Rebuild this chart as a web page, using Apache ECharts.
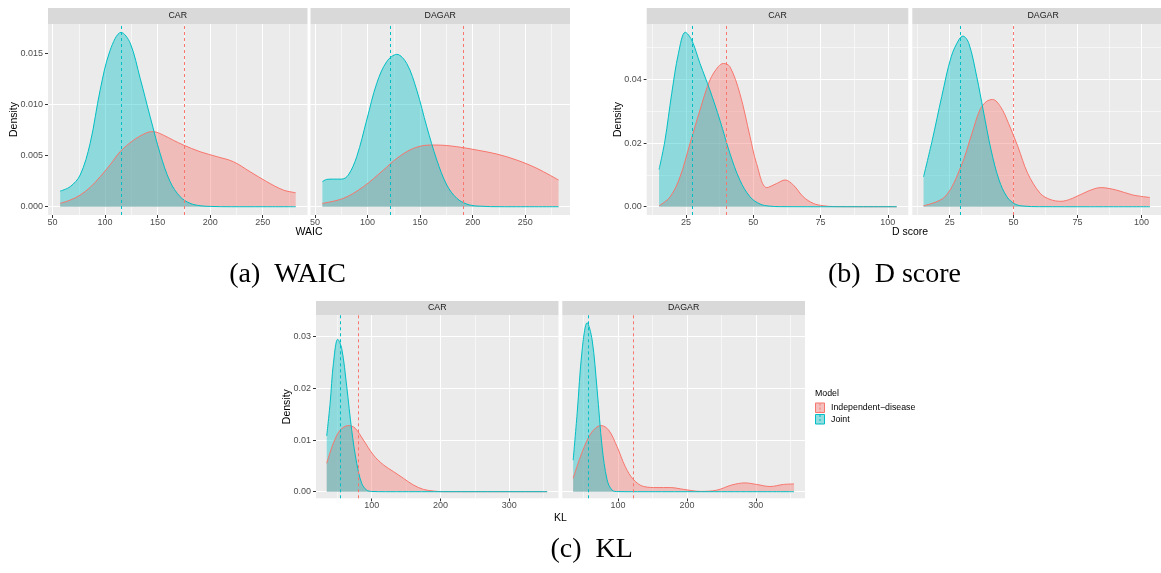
<!DOCTYPE html>
<html><head><meta charset="utf-8">
<script src="https://cdn.jsdelivr.net/npm/echarts@6/dist/echarts.min.js"></script>
<style>html,body{margin:0;padding:0;background:#fff}#c{width:1161px;height:573px}</style>
</head><body><div id="c"></div>
<script>
// ---------- DATA ----------
const facets = ['CAR', 'DAGAR'];
const models = ['Independent\u2212disease', 'Joint'];
const metricTitles = ['WAIC', 'D score', 'KL'];
const captions = ['(a) WAIC', '(b) D score', '(c) KL'];

// WAIC
const waicCarIndepX = [57.3,66.8,76.3,85.8,95.3,104.8,114.3,127,139.7,146,155.5,165,174.6,190.4,206.3,222.1,238,253.8,269.6,281.4];
const waicCarIndepY = [0.00033,0.00065,0.00114,0.0019,0.00293,0.0041,0.00538,0.0065,0.00724,0.00734,0.0070,0.0065,0.00603,0.00538,0.0049,0.0044,0.00342,0.00245,0.00163,0.00137];
const waicCarJointX = [57.3,66.8,76.3,85.8,95.3,104.8,115.3,123.9,133.4,142.9,152.4,161.9,171.4,180.9,190.4,200,220,250,281.4];
const waicCarJointY = [0.00153,0.00196,0.0031,0.0062,0.0114,0.0153,0.01705,0.0160,0.01255,0.0088,0.0052,0.00245,0.00098,0.00033,0.0001,0.00003,0,0,0];
const waicDagarIndepX = [57,77,96,115.1,127.8,143.7,159.5,165.9,184.9,204,223,242,261.1,281.7];
const waicDagarIndepY = [0.00033,0.00082,0.00196,0.00359,0.00473,0.00571,0.00603,0.00603,0.00587,0.00554,0.00515,0.00456,0.00375,0.00261];
const waicDagarJointX = [57,61.1,67.5,75.4,81.7,89.7,99.2,108.7,118.3,127.8,137.3,146.8,156.3,165.9,175.4,184.9,194.4,204,230,281.7];
const waicDagarJointY = [0.00245,0.00267,0.0027,0.0027,0.0031,0.0049,0.00848,0.01206,0.0142,0.0149,0.0140,0.0114,0.00783,0.00456,0.00212,0.00082,0.00026,0.00007,0,0];
const waicMeans = { CAR: [174.9, 115.3], DAGAR: [191.3, 121.7] }; // [Independent, Joint]

// D score
const dCarIndepX = [15,19.1,22.8,26.5,30.2,33.9,37,38.9,41.3,45,48.8,51.2,55,58.7,61.8,64.9,68.6,72.3,76,80,90,103.3];
const dCarIndepY = [0.0003,0.0031,0.0094,0.0199,0.0304,0.0398,0.0440,0.0450,0.0440,0.0356,0.0220,0.0136,0.0060,0.0073,0.0084,0.0068,0.0031,0.00105,0.0003,0.00005,0,0];
const dCarJointX = [15,17.2,19.7,22.2,24.75,27.1,30.2,33.9,37.6,41.3,45,48.8,52.5,56,60,80,103.3];
const dCarJointY = [0.0117,0.0209,0.0356,0.0482,0.0548,0.0524,0.0450,0.0366,0.0272,0.0168,0.0084,0.0031,0.00084,0.0002,0.00003,0,0];
const dDagarIndepX = [14.8,23.1,29.4,33.7,36.8,39.3,41.8,44.9,48,51.7,55.5,60.4,64.2,68.5,72.9,79.1,84.1,90.3,96.5,103.3];
const dDagarIndepY = [0.0003,0.0031,0.0126,0.0230,0.0304,0.0330,0.0337,0.0314,0.0262,0.0188,0.0105,0.0042,0.0023,0.0017,0.0026,0.0049,0.0060,0.0052,0.0037,0.0029];
const dDagarJointX = [14.8,18.2,21.9,25.6,28.7,30.2,32.5,35.6,38.1,41.2,44.3,47.4,50.5,54,60,80,103.3];
const dDagarJointY = [0.0094,0.0209,0.0346,0.0471,0.0526,0.0536,0.0513,0.0408,0.0304,0.0178,0.0084,0.0031,0.00084,0.0002,0.00002,0,0];
const dMeans = { CAR: [39.9, 27.5], DAGAR: [49.9, 29.0] };

// KL
const klCarIndepX = [34.6,44.3,54,66.1,75.8,87.9,102.4,116.9,131.5,146,160.5,175.1,189.6,204,250,355];
const klCarIndepY = [0.0055,0.0094,0.0119,0.0128,0.0123,0.0100,0.0071,0.0052,0.0039,0.0026,0.0013,0.00045,0.00013,0,0,0];
const klCarJointX = [34.6,39.5,44.3,50.6,56.4,63.7,70.9,78.2,85.5,92.7,100,120,355];
const klCarJointY = [0.0108,0.0171,0.0248,0.0295,0.0277,0.0203,0.0119,0.0055,0.0016,0.0003,0.00005,0,0];
const klDagarIndepX = [34.8,45.4,57.5,67.1,75.4,86.5,98.6,110.6,122.7,137.2,156.5,175.8,195.2,219.3,243.5,265.2,284.5,301.4,320.8,340.1,355.6];
const klDagarIndepY = [0.0026,0.0068,0.0106,0.0123,0.0128,0.0119,0.0087,0.0048,0.0023,0.0010,0.0008,0.0008,0.00045,0.00006,0.0003,0.0013,0.0017,0.0014,0.0010,0.0014,0.0015];
const klDagarJointX = [34.8,40.6,47.8,55.1,62.3,69.6,76.8,84.1,91.3,100,120,355.6];
const klDagarJointY = [0.0061,0.0152,0.0274,0.0327,0.0294,0.0197,0.0087,0.0023,0.0003,0.00002,0,0];
const klMeans = { CAR: [80.6, 54.5], DAGAR: [121.7, 56.5] };

// Ticks
const waicTicks = [50,100,150,200,250];
const waicMinor = [75,125,175,225,275];
const waicDensTicks = [0,0.005,0.010,0.015];
const waicDensLabels = ['0.000','0.005','0.010','0.015'];
const waicDensMinor = [0.0025,0.0075,0.0125,0.0175];
const dTicks = [25,50,75,100];
const dMinor = [12.5,37.5,62.5,87.5];
const dDensTicks = [0,0.02,0.04];
const dDensLabels = ['0.00','0.02','0.04'];
const dDensMinor = [0.01,0.03,0.05];
const klTicks = [100,200,300];
const klMinor = [50,150,250,350];
const klDensTicks = [0,0.01,0.02,0.03];
const klDensLabels = ['0.00','0.01','0.02','0.03'];
const klDensMinor = [0.005,0.015,0.025];

// ---------- LAYOUT ----------
const COL_INDEP = '#F8766D', COL_JOINT = '#00BFC4';
const FONT = 'Liberation Sans';
const pair = (xs, ys) => xs.map((x, i) => [x, ys[i]]);

const metrics = [
  { xt: waicTicks, xm: waicMinor, yt: waicDensTicks, yl: waicDensLabels, ym: waicDensMinor,
    xr: [45.7, 292.6], yr: [-0.00081, 0.01787], means: waicMeans,
    curves: { CAR: [pair(waicCarIndepX, waicCarIndepY), pair(waicCarJointX, waicCarJointY)],
              DAGAR: [pair(waicDagarIndepX, waicDagarIndepY), pair(waicDagarJointX, waicDagarJointY)] },
    grids: [{left:48, top:24, width:259.5, height:191}, {left:310.5, top:24, width:259.5, height:191}],
    strip: {top: 8, h: 16}, ytitle: [14, 119.5], xtitle: [309, 232], caption: [287.5, 274.5] },
  { xt: dTicks, xm: dMinor, yt: dDensTicks, yl: dDensLabels, ym: dDensMinor,
    xr: [10.4, 107.6], yr: [-0.0026, 0.0574], means: dMeans,
    curves: { CAR: [pair(dCarIndepX, dCarIndepY), pair(dCarJointX, dCarJointY)],
              DAGAR: [pair(dDagarIndepX, dDagarIndepY), pair(dDagarJointX, dDagarJointY)] },
    grids: [{left:646.7, top:24, width:261.6, height:191}, {left:912.3, top:24, width:261.6, height:191}],
    strip: {top: 8, h: 16}, ytitle: [618, 119.5], xtitle: [910, 232], caption: [894.5, 274.5] },
  { xt: klTicks, xm: klMinor, yt: klDensTicks, yl: klDensLabels, ym: klDensMinor,
    xr: [19, 371.5], yr: [-0.00128, 0.0342], means: klMeans,
    curves: { CAR: [pair(klCarIndepX, klCarIndepY), pair(klCarJointX, klCarJointY)],
              DAGAR: [pair(klDagarIndepX, klDagarIndepY), pair(klDagarJointX, klDagarJointY)] },
    grids: [{left:316, top:315, width:242.5, height:183.3}, {left:562.3, top:315, width:242.7, height:183.3}],
    strip: {top: 301, h: 14}, ytitle: [286.7, 406.7], xtitle: [560.5, 518], caption: [591.7, 549.5] }
];

const grid = [], xAxis = [], yAxis = [], series = [], graphic = [];
let gi = 0;
metrics.forEach((m, mi) => {
  facets.forEach((f, fi) => {
    const g = m.grids[fi];
    grid.push(Object.assign({ show: true, backgroundColor: '#EBEBEB', borderWidth: 0, containLabel: false }, g));
    xAxis.push({
      type: 'value', gridIndex: gi, min: m.xr[0], max: m.xr[1],
      axisLine: { show: false, onZero: false },
      splitLine: { show: false },
      axisTick: { show: true, customValues: m.xt, length: 3, lineStyle: { color: '#333333', width: 1 } },
      axisLabel: { show: true, customValues: m.xt, color: '#4D4D4D', fontSize: 9, fontFamily: FONT, margin: 3,
                   showMinLabel: true, showMaxLabel: true, hideOverlap: false }
    });
    yAxis.push({
      type: 'value', gridIndex: gi, min: m.yr[0], max: m.yr[1],
      axisLine: { show: false, onZero: false },
      splitLine: { show: false },
      axisTick: { show: fi === 0, customValues: m.yt, length: 3, lineStyle: { color: '#333333', width: 1 } },
      axisLabel: { show: fi === 0, customValues: m.yt, color: '#4D4D4D', fontSize: 9, fontFamily: FONT, margin: 5,
                   formatter: v => { const k = m.yt.findIndex(t => Math.abs(t - v) < 1e-9); return k >= 0 ? m.yl[k] : ''; } }
    });
    // grid lines
    const gl = [];
    m.xm.forEach(v => gl.push({ xAxis: v, lineStyle: { color: '#FFFFFF', width: 0.55, type: 'solid' } }));
    m.ym.forEach(v => gl.push({ yAxis: v, lineStyle: { color: '#FFFFFF', width: 0.55, type: 'solid' } }));
    m.xt.forEach(v => gl.push({ xAxis: v, lineStyle: { color: '#FFFFFF', width: 1.1, type: 'solid' } }));
    m.yt.forEach(v => gl.push({ yAxis: v, lineStyle: { color: '#FFFFFF', width: 1.1, type: 'solid' } }));
    series.push({
      type: 'line', xAxisIndex: gi, yAxisIndex: gi, data: [], z: 1, silent: true,
      markLine: { silent: true, z: 1, symbol: ['none', 'none'], label: { show: false }, animation: false,
                  emphasis: { disabled: true }, data: gl }
    });
    // densities
    const cols = [COL_INDEP, COL_JOINT];
    m.curves[f].forEach((d, k) => {
      series.push({
        type: 'line', name: models[k], xAxisIndex: gi, yAxisIndex: gi, data: d, z: 2,
        smooth: 0.35, symbol: 'none', silent: true, animation: false,
        lineStyle: { color: cols[k], width: 1 },
        areaStyle: { color: cols[k], opacity: 0.4 }
      });
    });
    // mean lines
    series.push({
      type: 'line', xAxisIndex: gi, yAxisIndex: gi, data: [], z: 3, silent: true,
      markLine: { silent: true, z: 5, symbol: ['none', 'none'], label: { show: false }, animation: false,
                  emphasis: { disabled: true },
                  data: m.means[f].map((v, k) => ({ xAxis: v, lineStyle: { color: cols[k], width: 1, type: [3, 3] } })) }
    });
    // strip
    graphic.push({ type: 'rect', silent: true, z: 10,
      shape: { x: g.left, y: m.strip.top, width: g.width, height: m.strip.h },
      style: { fill: '#D9D9D9' } });
    graphic.push({ type: 'text', silent: true, z: 11,
      x: g.left + g.width / 2, y: m.strip.top + m.strip.h / 2,
      style: { text: f, fill: '#1A1A1A', font: '8.8px "' + FONT + '"', textAlign: 'center', textVerticalAlign: 'middle' } });
    gi++;
  });
  // axis titles
  graphic.push({ type: 'text', silent: true, z: 11, x: m.ytitle[0], y: m.ytitle[1], rotation: Math.PI / 2,
    style: { text: 'Density', fill: '#000', font: '10.5px "' + FONT + '"', textAlign: 'center', textVerticalAlign: 'middle' } });
  graphic.push({ type: 'text', silent: true, z: 11, x: m.xtitle[0], y: m.xtitle[1],
    style: { text: metricTitles[mi], fill: '#000', font: '10.5px "' + FONT + '"', textAlign: 'center', textVerticalAlign: 'middle' } });
  graphic.push({ type: 'text', silent: true, z: 11, x: m.caption[0], y: m.caption[1],
    style: { text: captions[mi].replace(') ', ')\u2002'), fill: '#000', font: '28px "Liberation Serif"', textAlign: 'center', textVerticalAlign: 'middle' } });
});

// legend
graphic.push({ type: 'text', silent: true, z: 11, x: 815, y: 394,
  style: { text: 'Model', fill: '#000', font: '8.8px "' + FONT + '"', textAlign: 'left', textVerticalAlign: 'middle' } });
[COL_INDEP, COL_JOINT].forEach((c, k) => {
  const y0 = 402.5 + k * 11.5;
  graphic.push({ type: 'rect', silent: true, z: 11, shape: { x: 815, y: y0, width: 10, height: 10.5 },
    style: { fill: '#F2F2F2' } });
  graphic.push({ type: 'rect', silent: true, z: 12, shape: { x: 815.5, y: y0 + 0.5, width: 9, height: 9.5 },
    style: { fill: c, opacity: 0.4 } });
  graphic.push({ type: 'rect', silent: true, z: 13, shape: { x: 815.5, y: y0 + 0.5, width: 9, height: 9.5 },
    style: { fill: 'none', stroke: c, lineWidth: 1 } });
  graphic.push({ type: 'line', silent: true, z: 13, shape: { x1: 820, y1: y0 + 1, x2: 820, y2: y0 + 9.5 },
    style: { stroke: c, lineWidth: 1, lineDash: [2, 2] } });
  graphic.push({ type: 'text', silent: true, z: 11, x: 831, y: y0 + 5.5,
    style: { text: models[k], fill: '#000', font: '8.8px "' + FONT + '"', textAlign: 'left', textVerticalAlign: 'middle' } });
});

const chart = echarts.init(document.getElementById('c'), null, { renderer: 'canvas' });
chart.setOption({
  backgroundColor: '#FFFFFF',
  animation: false,
  grid, xAxis, yAxis, series, graphic
});
</script></body></html>
